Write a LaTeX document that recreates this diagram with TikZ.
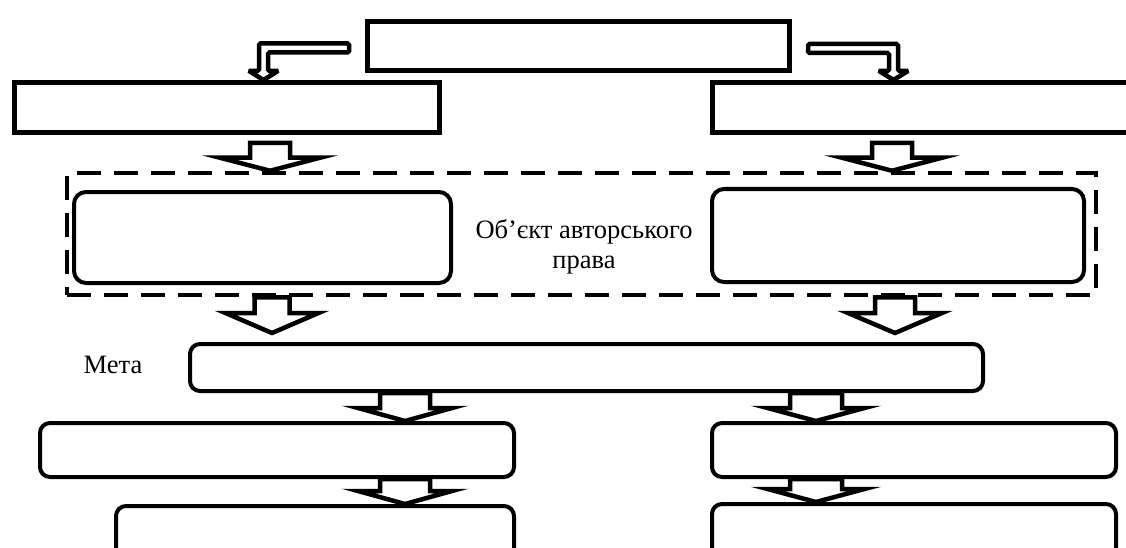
\documentclass[tikz,border=0pt]{standalone}
\usepackage{fontspec}
\setmainfont{Liberation Serif}
\usetikzlibrary{calc}

% hollow block arrow pointing down: start, tip, shaft half width, head half width, head length
\newcommand{\hollowdown}[5]{%
	\draw[blockarrow] let \p1=#1, \p2=#2 in
		(\x1-#3pt,\y1) -- (\x1+#3pt,\y1) -- (\x1+#3pt,\y2+#5pt) -- (\x1+#4pt,\y2+#5pt)
		-- (\x1,\y2) -- (\x1-#4pt,\y2+#5pt) -- (\x1-#3pt,\y2+#5pt) -- cycle;}

% thin hollow arrow bent down: start, tip, side (-1 left, 1 right)
\newcommand{\hollowbend}[3]{%
	\draw[bendarrow] let \p1=#1, \p2=#2, \n1={#3} in
		(\x1+\n1*16pt,\y1+4.5pt) -- (\x2+\n1*4.5pt,\y1+4.5pt) -- (\x2+\n1*4.5pt,\y2+9pt)
		-- (\x2+\n1*14.5pt,\y2+9pt) -- (\x2,\y2) -- (\x2-\n1*14.5pt,\y2+9pt)
		-- (\x2-\n1*4.5pt,\y2+9pt) -- (\x2-\n1*4.5pt,\y1-4.5pt) -- (\x1+\n1*16pt,\y1-4.5pt) -- cycle;}

\begin{document}
\begin{tikzpicture}[x=1pt,y=-1pt,
		box/.style={draw, line width=5pt, inner sep=0pt},
		rbox/.style={draw, line width=4pt, rounded corners=12pt, inner sep=0pt},
		frame/.style={draw, line width=4.5pt, dash pattern=on 24pt off 13pt, inner sep=0pt},
		label/.style={font=\fontsize{26.5}{29.5}\selectfont, align=center},
		blockarrow/.style={draw, fill=white, line width=4.5pt, line join=miter},
		bendarrow/.style={draw, fill=white, line width=4.5pt, rounded corners=1.5pt}]

	\useasboundingbox (0,0) rectangle (1126,548);
	\clip (0,0) rectangle (1126,548);

	%\draw[step=100,gray,very thin] (0,0) grid (1126,548);

	\node[box, minimum width=422pt, minimum height=49pt] (top) at (578.5,46) {};
	\node[box, minimum width=425pt, minimum height=50pt] (lb) at (227,107.5) {};
	\node[box, minimum width=420pt, minimum height=50pt] (rb) at (922.5,107.5) {};

	\node[frame, minimum width=1029pt, minimum height=122pt] (dash) at (581.5,234) {};
	\node[rbox, minimum width=377pt, minimum height=91pt] (lr) at (262.5,237.5) {};
	\node[rbox, minimum width=372pt, minimum height=93pt] (rr) at (898,235.5) {};
	\node[label] (obj) at (584,247) {Об’єкт авторського\\права};

	\node[rbox, rounded corners=10pt, minimum width=793pt, minimum height=47pt] (meta) at (586.5,367.5) {};
	\node[label] (metalabel) at (113,365) {Мета};

	\node[rbox, rounded corners=10pt, minimum width=474pt, minimum height=54pt] (ml) at (277,450) {};
	\node[rbox, rounded corners=10pt, minimum width=404pt, minimum height=54pt] (mr) at (914,450) {};
	\node[rbox, rounded corners=10pt, minimum width=398pt, minimum height=52pt] (bl) at (315,532) {};
	\node[rbox, rounded corners=10pt, minimum width=404pt, minimum height=54pt] (br) at (914,531) {};

	\path (lb.south) ++(0,8) coordinate (lbgap);
	\path (rb.south) ++(0,8) coordinate (rbgap);
	\path (meta.north) ++(0,-9) coordinate (metagap);

	\hollowbend{([yshift=-2pt]top.west)}{(lb.north -| 263.5,0)}{-1}
	\hollowbend{([yshift=-2.5pt]top.east)}{(rb.north -| 893.5,0)}{1}

	\hollowdown{(lbgap -| 270,0)}{(dash.north -| 270,0)}{20}{50}{13}
	\hollowdown{(rbgap -| 892,0)}{(dash.north -| 892,0)}{20}{50}{13}

	\hollowdown{(dash.south -| 272,0)}{(metagap -| 272,0)}{17.5}{46.5}{20}
	\hollowdown{(dash.south -| 895,0)}{(metagap -| 895,0)}{20}{47}{20}

	\hollowdown{(meta.south -| 405,0)}{(ml.north -| 405,0)}{25}{47}{13}
	\hollowdown{(meta.south -| 816,0)}{(mr.north -| 816,0)}{26}{48.5}{13}

	\hollowdown{(ml.south -| 405,0)}{(bl.north -| 405,0)}{25}{47}{13}
	\hollowdown{(mr.south -| 816,0)}{(br.north -| 816,0)}{26}{48.5}{13}

\end{tikzpicture}
\end{document}
